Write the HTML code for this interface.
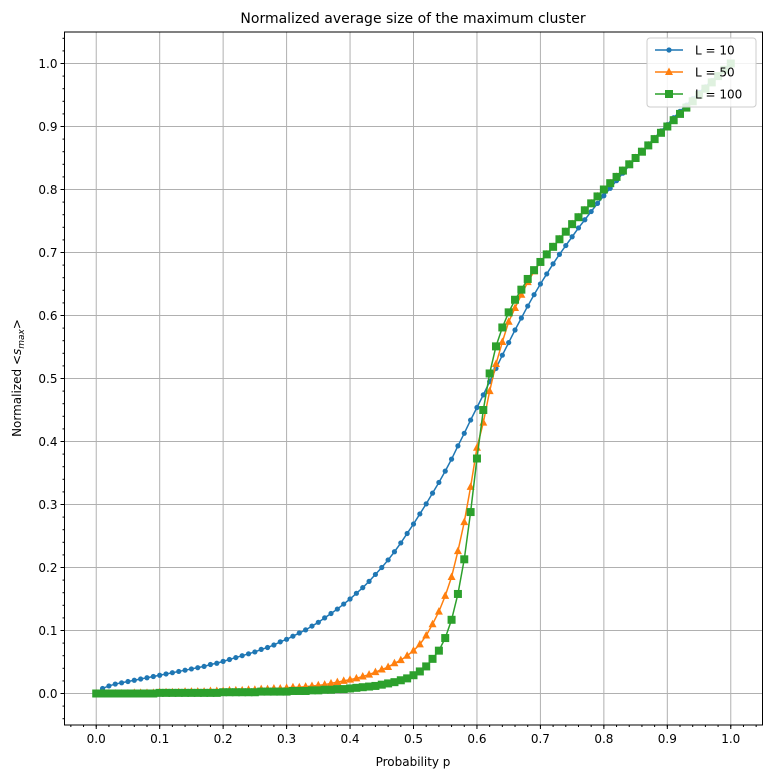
<!DOCTYPE html>
<html><head><meta charset="utf-8"><style>
body{margin:0;background:#fff;font-family:"Liberation Sans","DejaVu Sans",sans-serif}
svg{display:block}
text{font-family:"DejaVu Sans","Liberation Sans",sans-serif}
</style></head><body>
<svg id="chart" width="772" height="778" viewBox="0 0 772 778" xmlns="http://www.w3.org/2000/svg"></svg>
<script>
const pValues = Array.from({length:101},(_, i)=>i/100);
const seriesL10 = [0,.008,.012,.015,.017,.019,.021,.023,.025,.027,.029,.031,.033,.035,.037,.039,.041,.043,.046,.048,.051,.054,.057,.060,.063,.066,.070,.073,.077,.082,.086,.091,.096,.101,.107,.113,.120,.127,.134,.142,.150,.159,.168,.178,.189,.200,.212,.225,.239,.254,.269,.285,.301,.318,.335,.353,.372,.393,.413,.434,.454,.474,.495,.516,.537,.557,.577,.596,.615,.633,.650,.666,.682,.697,.711,.725,.739,.752,.765,.778,.790,.802,.814,.826,.838,.849,.860,.871,.882,.893,.903,.914,.924,.934,.944,.954,.963,.973,.982,.991,1.0];
const seriesL50 = [0,0,0,0,0,0,.001,.001,.001,.001,.002,.002,.002,.002,.003,.003,.003,.003,.004,.004,.004,.005,.005,.005,.006,.006,.007,.007,.008,.008,.009,.010,.010,.011,.012,.013,.014,.016,.018,.020,.022,.024,.027,.030,.034,.038,.042,.048,.053,.060,.068,.078,.092,.110,.130,.155,.185,.226,.272,.328,.390,.430,.480,.523,.558,.590,.612,.633,.653,.670,.685,.697,.709,.721,.733,.745,.756,.767,.778,.789,.800,.810,.820,.830,.840,.850,.860,.870,.880,.890,.900,.910,.920,.930,.940,.950,.960,.970,.980,.990,1.0];
const seriesL100 = [0,0,0,0,0,0,0,0,0,0,.001,.001,.001,.001,.001,.001,.001,.001,.001,.001,.002,.002,.002,.002,.002,.002,.003,.003,.003,.003,.003,.004,.004,.004,.005,.005,.006,.006,.007,.007,.008,.009,.010,.011,.012,.014,.016,.018,.021,.024,.029,.035,.043,.055,.068,.088,.117,.158,.213,.288,.373,.450,.508,.551,.581,.605,.625,.641,.658,.672,.685,.697,.709,.721,.733,.745,.756,.767,.778,.789,.800,.810,.820,.830,.840,.850,.860,.870,.880,.890,.900,.910,.920,.930,.940,.950,.960,.970,.980,.990,1.0];
const xTickLabels = ["0.0","0.1","0.2","0.3","0.4","0.5","0.6","0.7","0.8","0.9","1.0"];
const yTickLabels = ["0.0","0.1","0.2","0.3","0.4","0.5","0.6","0.7","0.8","0.9","1.0"];

const NS="http://www.w3.org/2000/svg";
const svg=document.getElementById('chart');
const L=64.5,R=762.5,T=32,B=725;
const xMin=-0.05,xMax=1.05,yMin=-0.05,yMax=1.05;
const X=v=>L+(v-xMin)/(xMax-xMin)*(R-L);
const Y=v=>B-(v-yMin)/(yMax-yMin)*(B-T);
function mk(tag,attrs,parent){const e=document.createElementNS(NS,tag);for(const k in attrs)e.setAttribute(k,attrs[k]);(parent||svg).appendChild(e);return e;}

const grid=mk('g',{});


xTickLabels.forEach(t=>{const v=parseFloat(t);mk('line',{x1:X(v),x2:X(v),y1:T,y2:B,stroke:'#b0b0b0','stroke-width':1},grid);});
yTickLabels.forEach(t=>{const v=parseFloat(t);mk('line',{x1:L,x2:R,y1:Y(v),y2:Y(v),stroke:'#b0b0b0','stroke-width':1},grid);});

const colors=['#1f77b4','#ff7f0e','#2ca02c'];
const allSeries=[seriesL10,seriesL50,seriesL100];
const names=['series-l10','series-l50','series-l100'];
allSeries.forEach((s,si)=>{
  const g=mk('g',{});
  
  
  const pts=s.map((v,i)=>X(pValues[i]).toFixed(2)+','+Y(v).toFixed(2)).join(' ');
  mk('polyline',{points:pts,fill:'none',stroke:colors[si],'stroke-width':1.5},g);
  s.forEach((v,i)=>{
    const cx=X(pValues[i]),cy=Y(v);let m;
    if(si===0)m=mk('circle',{cx,cy,r:2.6,fill:colors[0]},g);
    else if(si===1)m=mk('polygon',{points:`${cx},${cy-4.5} ${cx-4},${cy+3} ${cx+4},${cy+3}`,fill:colors[1]},g);
    else m=mk('rect',{x:cx-4,y:cy-4,width:8,height:8,fill:colors[2]},g);
    
    
  });
});

const frame=mk('rect',{x:L,y:T,width:R-L,height:B-T,fill:'none',stroke:'#000','stroke-width':1});



const ax=mk('g',{'font-size':12,fill:'#000'});


for(let k=-2;k<=52;k++){const v=k*0.02;if(v<xMin||v>xMax)continue;mk('line',{x1:X(v),x2:X(v),y1:B,y2:B+2,stroke:'#000'},ax);}
for(let k=-2;k<=52;k++){const v=k*0.02;if(v<yMin||v>yMax)continue;mk('line',{x1:L,x2:L-2,y1:Y(v),y2:Y(v),stroke:'#000'},ax);}
xTickLabels.forEach(t=>{const v=parseFloat(t);mk('line',{x1:X(v),x2:X(v),y1:B,y2:B+4,stroke:'#000'},ax);
  const tx=mk('text',{x:X(v),y:B+18,'text-anchor':'middle'},ax);tx.textContent=t;
  
  });
yTickLabels.forEach(t=>{const v=parseFloat(t);mk('line',{x1:L,x2:L-4,y1:Y(v),y2:Y(v),stroke:'#000'},ax);
  const tx=mk('text',{x:L-7,y:Y(v)+4.5,'text-anchor':'end'},ax);tx.textContent=t;
  
  });
</script>
<svg style="position:absolute;left:0;top:0" width="772" height="778">
<text x="413" y="23" text-anchor="middle" font-size="14" font-family="DejaVu Sans, Liberation Sans, sans-serif">Normalized average size of the maximum cluster</text>
<text x="413" y="766" text-anchor="middle" font-size="12" font-family="DejaVu Sans, Liberation Sans, sans-serif">Probability p</text>
<text transform="translate(21,378) rotate(-90)" text-anchor="middle" font-size="12" font-family="DejaVu Sans, Liberation Sans, sans-serif">Normalized &lt;<tspan font-style="italic">s</tspan><tspan font-style="italic" font-size="9" dy="3">max</tspan><tspan dy="-3">&gt;</tspan></text>
<g font-size="12" font-family="DejaVu Sans, Liberation Sans, sans-serif">
<rect x="647" y="38" width="109" height="69" rx="3" fill="#fff" fill-opacity="0.85" stroke="#ccc"/>
<g><line x1="655" x2="683" y1="50" y2="50" stroke="#1f77b4" stroke-width="1.5"/><circle cx="669" cy="50" r="2.6" fill="#1f77b4"/><text x="695" y="54.5">L = 10</text></g>
<g><line x1="655" x2="683" y1="72" y2="72" stroke="#ff7f0e" stroke-width="1.5"/><polygon points="669,67.5 665,75 673,75" fill="#ff7f0e"/><text x="695" y="76.5">L = 50</text></g>
<g><line x1="655" x2="683" y1="94" y2="94" stroke="#2ca02c" stroke-width="1.5"/><rect x="665" y="90" width="8" height="8" fill="#2ca02c"/><text x="695" y="98.5">L = 100</text></g>
</g>
</svg>
</body></html>
